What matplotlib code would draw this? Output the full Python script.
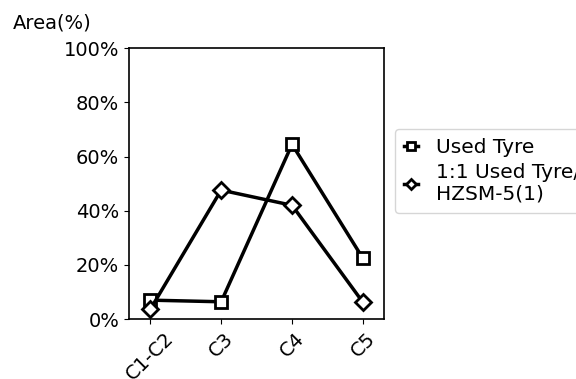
import matplotlib
matplotlib.use("Agg")
import matplotlib.pyplot as plt
from matplotlib.ticker import PercentFormatter

categories = ["C1-C2", "C3", "C4", "C5"]
used_tyre = [7.0, 6.4, 64.5, 22.4]
mixed = [3.6, 47.6, 42.0, 6.2]
series_labels = ["Used Tyre", "1:1 Used Tyre/\nHZSM-5(1)"]

fig = plt.figure(figsize=(5.76, 3.79), dpi=100)
ax = fig.add_axes([0.224, 0.158, 0.443, 0.715])
x = range(len(categories))
ax.plot(x, used_tyre, color="black", lw=2.5, marker="s", ms=9,
        mfc="white", mec="black", mew=2, label=series_labels[0])
ax.plot(x, mixed, color="black", lw=2.5, marker="D", ms=8,
        mfc="white", mec="black", mew=2, label=series_labels[1])
ax.set_xlim(-0.3, 3.3)
ax.set_ylim(0, 100)
ax.set_yticks([0, 20, 40, 60, 80, 100])
ax.yaxis.set_major_formatter(PercentFormatter(decimals=0))
ax.set_xticks(list(x))
ax.set_xticklabels(categories, rotation=45)
ax.tick_params(labelsize=14)
for s in ax.spines.values():
    s.set_linewidth(1.2)
fig.text(0.022, 0.94, "Area(%)", fontsize=14, ha="left", va="center")
ax.legend(loc="center left", bbox_to_anchor=(1.043, 0.548), borderaxespad=0,
          fontsize=14.5, handlelength=0.7, labelspacing=0.3, markerscale=0.7,
          handletextpad=0.9, borderpad=0.45)
fig.savefig("out.png", dpi=100)
